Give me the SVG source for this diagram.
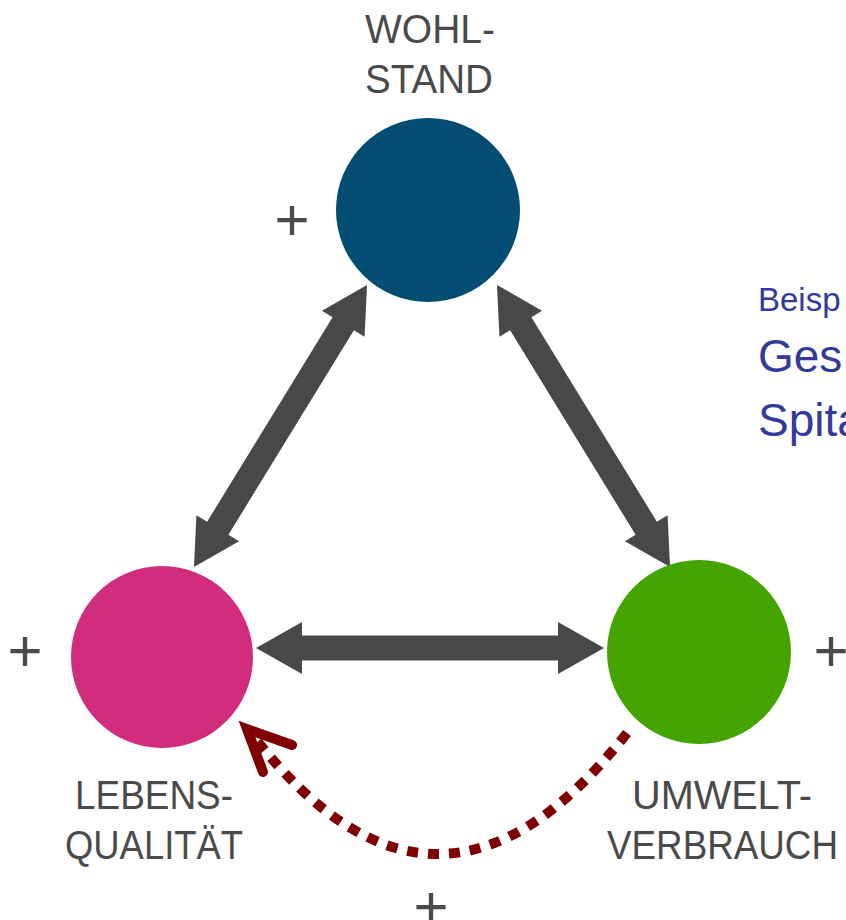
<svg xmlns="http://www.w3.org/2000/svg" width="846" height="920" viewBox="0 0 846 920">
  <style>
    .label { font-family: "Liberation Sans", Arial, sans-serif; font-size: 40px; fill: #4a4a4a; text-anchor: middle; }
    .plus { font-family: "Liberation Sans", Arial, sans-serif; font-size: 60px; fill: #4a4a4a; text-anchor: middle; }
    .note { font-family: "Liberation Sans", Arial, sans-serif; fill: #343a9c; }
    .big-arrow { fill: #474948; }
    .feedback { fill: none; stroke: #800000; stroke-width: 10; }
  </style>
  <defs>
    <!-- double-headed arrow bodies, centred on the origin, pointing along x -->
    <path id="arrow-h" d="M-174,0 L-128,-26 L-128,-12.5 L128,-12.5 L128,-26 L174,0 L128,26 L128,12.5 L-128,12.5 L-128,26 Z"/>
    <path id="arrow-d" d="M-165.5,0 L-120,-25 L-120,-12.5 L120,-12.5 L120,-25 L165.5,0 L120,25 L120,12.5 L-120,12.5 L-120,25 Z"/>
  </defs>

  <rect width="846" height="920" fill="#ffffff"/>

  <g id="connectors">
    <use href="#arrow-d" class="big-arrow" transform="translate(280.5,426) rotate(-58.47)"/>
    <use href="#arrow-d" class="big-arrow" transform="translate(583.5,426) rotate(58.47)"/>
    <use href="#arrow-h" class="big-arrow" transform="translate(430,648)"/>
    <g id="feedback-loop">
      <path class="feedback" stroke-dasharray="11 10" d="M627,733 Q438,973 254,737"/>
      <polyline class="feedback" stroke-linecap="round" stroke-linejoin="miter" points="292,745 247,729 263,772"/>
    </g>
  </g>

  <g id="wohlstand">
    <circle cx="428" cy="210" r="92" fill="#034d73"/>
    <text class="label" x="430" y="43" textLength="130" lengthAdjust="spacingAndGlyphs">WOHL-</text>
    <text class="label" x="429" y="93" textLength="128" lengthAdjust="spacingAndGlyphs">STAND</text>
    <text class="plus" x="292" y="240">+</text>
  </g>

  <g id="lebensqualitaet">
    <circle cx="162" cy="657" r="91" fill="#d22c7e"/>
    <text class="label" x="154" y="809" textLength="158" lengthAdjust="spacingAndGlyphs">LEBENS-</text>
    <text class="label" x="154" y="859" textLength="178" lengthAdjust="spacingAndGlyphs">QUALITÄT</text>
    <text class="plus" x="25" y="671">+</text>
  </g>

  <g id="umweltverbrauch">
    <circle cx="699" cy="652" r="92" fill="#43a400"/>
    <text class="label" x="722" y="809" textLength="180" lengthAdjust="spacingAndGlyphs">UMWELT-</text>
    <text class="label" x="722.5" y="859" textLength="231" lengthAdjust="spacingAndGlyphs">VERBRAUCH</text>
    <text class="plus" x="831" y="671">+</text>
  </g>

  <g id="loop-sign">
    <text class="plus" x="431" y="927">+</text>
  </g>

  <g id="example-note">
    <text class="note" x="758" y="311" font-size="33">Beisp</text>
    <text class="note" x="758" y="372" font-size="46">Ges</text>
    <text class="note" x="758" y="436" font-size="46">Spita</text>
  </g>
</svg>
